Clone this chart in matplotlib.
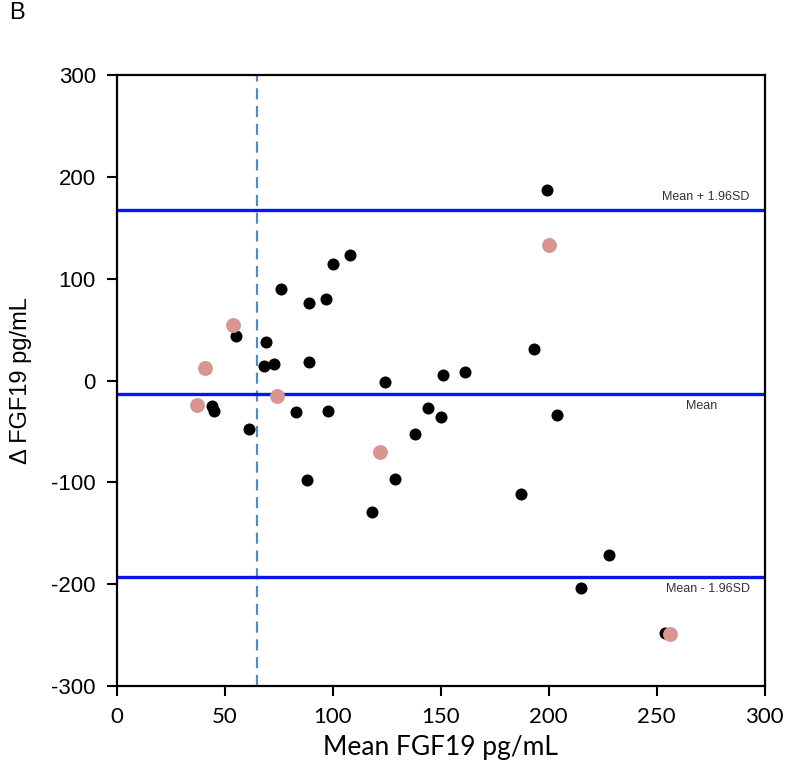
import numpy as np
import matplotlib
matplotlib.use("Agg")
from matplotlib import pyplot as plt

# black points: mean FGF19 vs difference
black_x = [55, 69, 68, 73, 89, 76, 89, 97, 100, 108, 44, 45, 61, 83, 98, 88,
           118, 129, 138, 144, 150, 124, 151, 161, 193, 199, 187, 204, 228, 215, 254]
black_y = [44, 38, 14, 16, 18, 90, 76, 80, 114, 123, -25, -30, -48, -31, -30, -98,
           -129, -97, -53, -27, -36, -1, 5, 8, 31, 187, -111, -34, -171, -204, -248]
# pink points
pink_x = [54, 41, 37, 74, 122, 200, 256]
pink_y = [55, 12, -24, -15, -70, 133, -249]

mean_diff = -13
upper_loa = 168
lower_loa = -193
cutoff_x = 65

x_ticks = [0, 50, 100, 150, 200, 250, 300]
y_ticks = [-300, -200, -100, 0, 100, 200, 300]

fig = plt.figure(figsize=(8, 7.75), dpi=100)
ax = fig.add_axes([0.146, 0.115, 0.81, 0.788])

ax.axhline(upper_loa, color="#0a14f0", lw=2.4, zorder=2)
ax.axhline(mean_diff, color="#0a14f0", lw=2.4, zorder=2)
ax.axhline(lower_loa, color="#0a14f0", lw=2.4, zorder=2)
ax.axvline(cutoff_x, color="#5f8ab0", lw=1.6, ls=(0, (5, 3)), zorder=1)

ax.scatter(black_x, black_y, s=75, color="black", zorder=3, linewidths=0)
ax.scatter(pink_x, pink_y, s=115, color="#d99590", zorder=4, linewidths=0)

ax.text(293, upper_loa + 6, "Mean + 1.96SD", ha="right", va="bottom",
        fontsize=9, color="#333333", family="Liberation Sans")
ax.text(278, mean_diff - 6, "Mean", ha="right", va="top",
        fontsize=9, color="#333333", family="Liberation Sans")
ax.text(293, lower_loa - 6, "Mean - 1.96SD", ha="right", va="top",
        fontsize=9, color="#333333", family="Liberation Sans")

ax.set_xlim(0, 300)
ax.set_ylim(-300, 300)
ax.set_xticks(x_ticks)
ax.set_yticks(y_ticks)
ax.set_xticklabels([str(t) for t in x_ticks], fontsize=16, family="Lato")
ax.set_yticklabels([str(t) for t in y_ticks], fontsize=16, family="Liberation Sans")
ax.tick_params(direction="out", length=7, width=1.5, pad=8)

for sp in ax.spines.values():
    sp.set_linewidth(1.6)

ax.set_xlabel("Mean FGF19 pg/mL", fontsize=19, family="Lato", labelpad=6)
ax.set_ylabel("\u0394 FGF19 pg/mL", fontsize=17, family="Liberation Sans", labelpad=14)

fig.text(0.011, 0.983, "B", fontsize=17, family="Liberation Sans", va="center")

fig.savefig("out.png", dpi=100)
